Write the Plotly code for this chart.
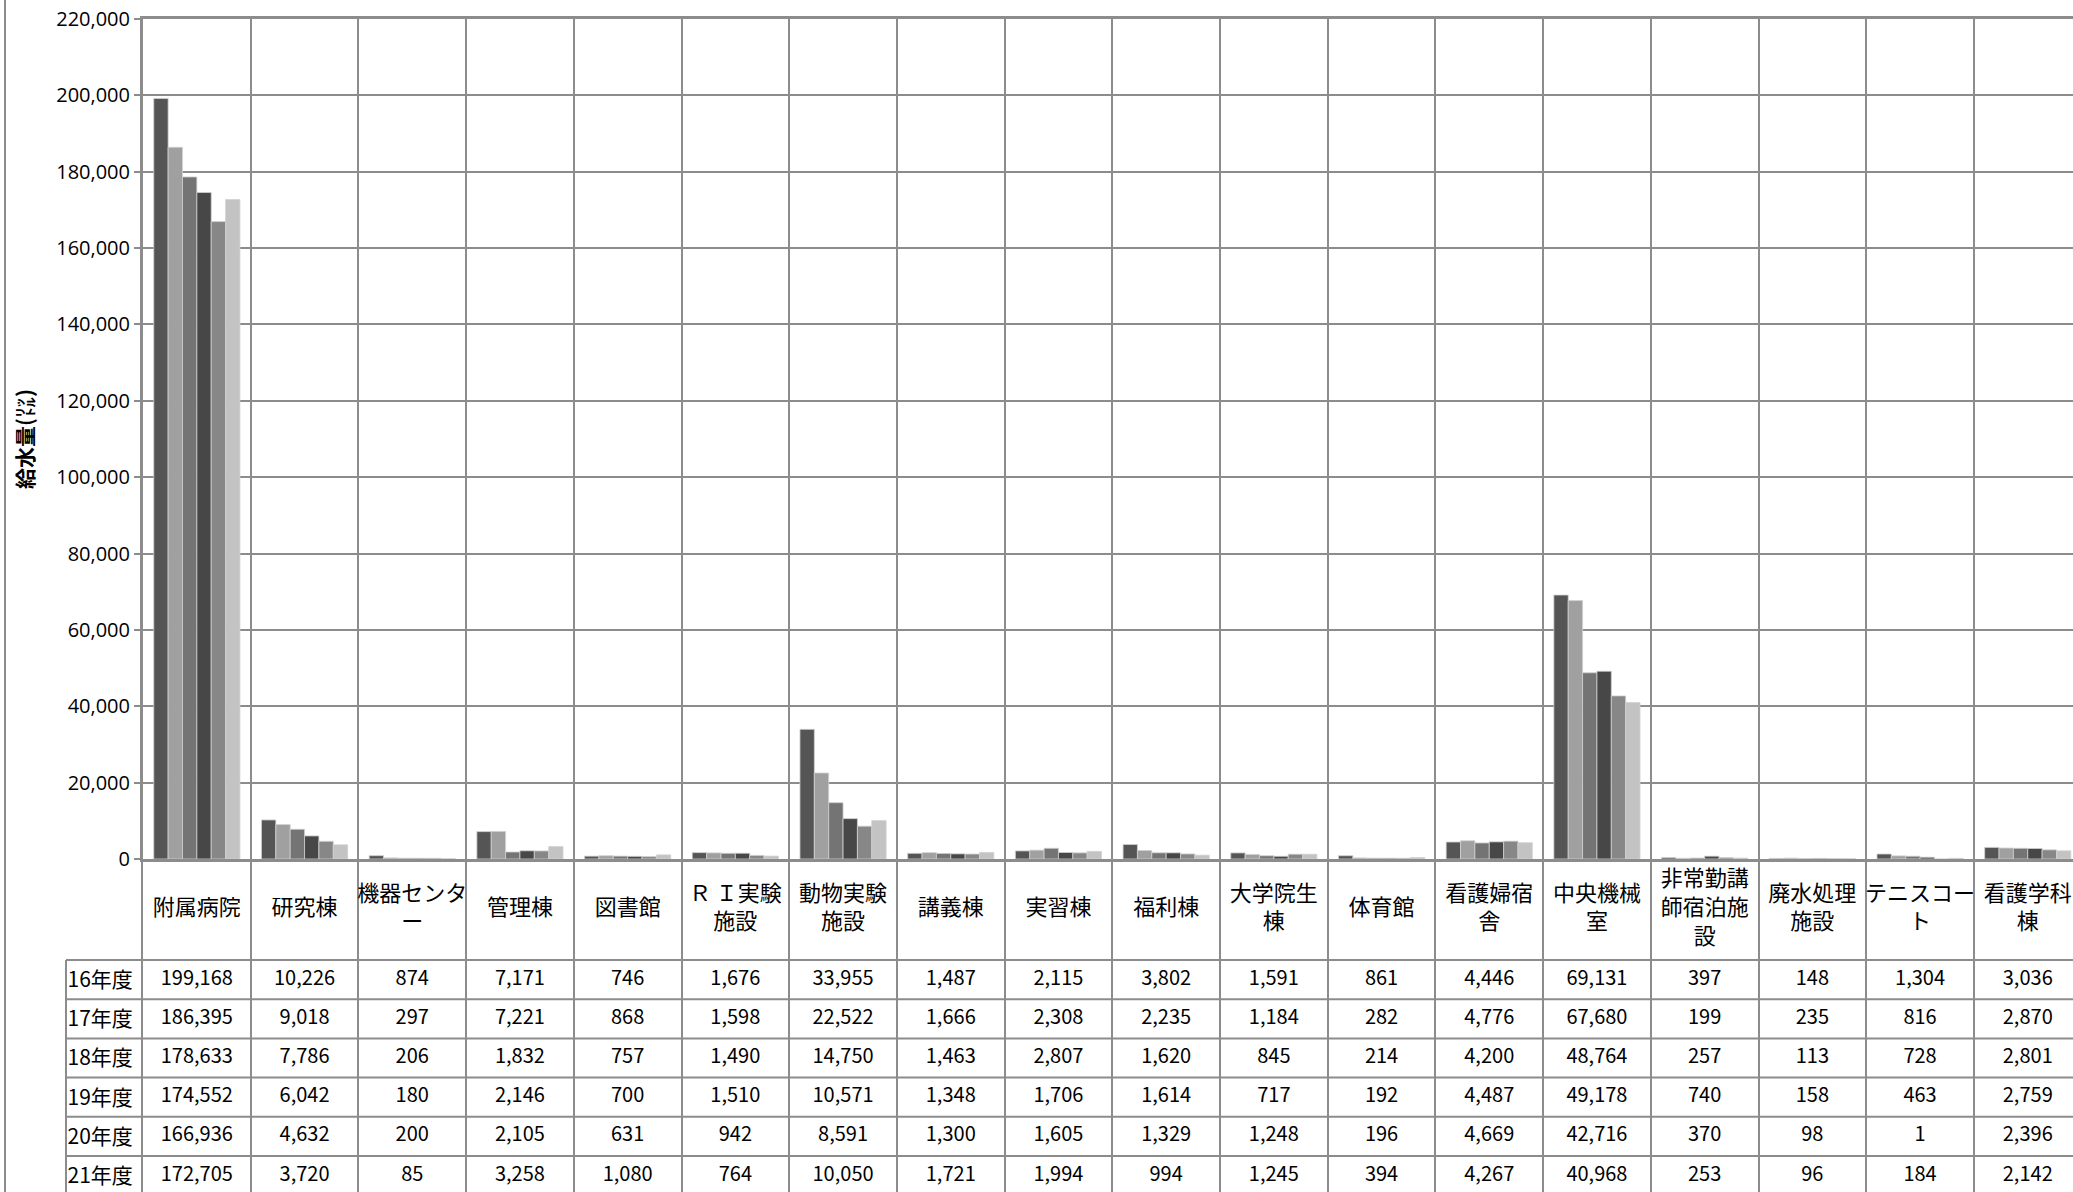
import plotly.graph_objects as go

categories = ["附属病院", "研究棟", "機器センター", "管理棟", "図書館", "ＲＩ実験施設",
              "動物実験施設", "講義棟", "実習棟", "福利棟", "大学院生棟", "体育館",
              "看護婦宿舎", "中央機械室", "非常勤講師宿泊施設", "廃水処理施設",
              "テニスコート", "看護学科棟"]
header_labels = ["附属病院", "研究棟", "機器センタ<br>ー", "管理棟", "図書館", "Ｒ Ｉ実験<br>施設",
                 "動物実験<br>施設", "講義棟", "実習棟", "福利棟", "大学院生<br>棟", "体育館",
                 "看護婦宿<br>舎", "中央機械<br>室", "非常勤講<br>師宿泊施<br>設", "廃水処理<br>施設",
                 "テニスコー<br>ト", "看護学科<br>棟"]
years = ["16年度", "17年度", "18年度", "19年度", "20年度", "21年度"]

v16 = [199168, 10226, 874, 7171, 746, 1676, 33955, 1487, 2115, 3802, 1591, 861, 4446, 69131, 397, 148, 1304, 3036]
v17 = [186395, 9018, 297, 7221, 868, 1598, 22522, 1666, 2308, 2235, 1184, 282, 4776, 67680, 199, 235, 816, 2870]
v18 = [178633, 7786, 206, 1832, 757, 1490, 14750, 1463, 2807, 1620, 845, 214, 4200, 48764, 257, 113, 728, 2801]
v19 = [174552, 6042, 180, 2146, 700, 1510, 10571, 1348, 1706, 1614, 717, 192, 4487, 49178, 740, 158, 463, 2759]
v20 = [166936, 4632, 200, 2105, 631, 942, 8591, 1300, 1605, 1329, 1248, 196, 4669, 42716, 370, 98, 1, 2396]
v21 = [172705, 3720, 85, 3258, 1080, 764, 10050, 1721, 1994, 994, 1245, 394, 4267, 40968, 253, 96, 184, 2142]
series = [v16, v17, v18, v19, v20, v21]

y_ticks = list(range(0, 220001, 20000))

colors = ["#555555", "#a0a0a0", "#747474", "#474747", "#878787", "#c3c3c3"]
GRID = "#8c8c8c"
FONT = "Open Sans, Noto Sans CJK JP, sans-serif"
CJK = "Noto Sans CJK JP, sans-serif"

W, H = 2073, 1192
L, T = 143, 19
plot_w = W - L
plot_h = H - T
zero_px = 859
bar_bottom = (H - zero_px) / plot_h
cat_w = 107.7
x_end = -0.5 + plot_w / cat_w

row_h = 39.2
header_rows = (960 - zero_px) / row_h
table_bottom = -header_rows + (H - zero_px) / row_h

fig = go.Figure()

for name, vals, c in zip(years, series, colors):
    fig.add_trace(go.Bar(x=categories, y=vals, name=name, marker_color=c,
                         marker_line=dict(color="#d0d0d0", width=0.8),
                         xaxis="x", yaxis="y", showlegend=False,
                         hoverinfo="x+y+name"))

fig.add_trace(go.Scatter(x=categories, y=[-header_rows / 2] * len(categories),
                         text=header_labels, mode="text", textposition="middle center",
                         textfont=dict(size=22, color="black", family=CJK),
                         xaxis="x2", yaxis="y2", showlegend=False, hoverinfo="skip"))
for i, vals in enumerate(series):
    fig.add_trace(go.Scatter(x=categories, y=[i + 0.5] * len(categories),
                             text=[f"{v:,}" for v in vals], mode="text",
                             textposition="middle center",
                             textfont=dict(size=20, color="black", family=CJK),
                             xaxis="x2", yaxis="y2", showlegend=False, hoverinfo="skip"))

shapes = []
lx = (66 - L) / plot_w
for k in range(0, 7):
    shapes.append(dict(type="line", xref="paper", yref="y2", x0=lx, x1=1, y0=k, y1=k,
                       line=dict(color=GRID, width=2)))
shapes.append(dict(type="line", xref="paper", yref="y2", x0=lx, x1=lx, y0=0, y1=table_bottom,
                   line=dict(color=GRID, width=2)))
bx = (5 - L) / plot_w
shapes.append(dict(type="line", xref="paper", yref="paper", x0=bx, x1=bx, y0=-0.01, y1=1 + T / plot_h + 0.01,
                   line=dict(color=GRID, width=2)))

annotations = [dict(text="<b>給水量(㍑)</b>", xref="paper", yref="paper",
                    x=(24 - L) / plot_w, y=(bar_bottom + 1) / 2, textangle=-90,
                    xanchor="center", yanchor="middle",
                    showarrow=False, font=dict(size=21, color="black", family=CJK))]

fig.update_layout(
    width=W, height=H,
    margin=dict(l=L, r=0, t=T, b=0, autoexpand=False),
    paper_bgcolor="white", plot_bgcolor="white",
    barmode="group", bargap=0.2, bargroupgap=0,
    font=dict(family=FONT, color="black"),
    xaxis=dict(domain=[0, 1], range=[-0.5, x_end], type="category", automargin=False,
               tickson="boundaries", showgrid=True, gridcolor=GRID, gridwidth=2,
               showticklabels=False, ticks="", showline=True, mirror=True,
               linecolor=GRID, linewidth=3, anchor="y", fixedrange=True),
    yaxis=dict(domain=[bar_bottom, 1], range=[0, 220000], tickvals=y_ticks, automargin=False,
               tickformat=",d", showgrid=True, gridcolor=GRID, gridwidth=2,
               ticks="outside", ticklen=6, tickwidth=2, tickcolor=GRID,
               showline=True, linecolor=GRID, linewidth=3, zeroline=False,
               tickfont=dict(size=20, color="black", family=FONT), anchor="x"),
    xaxis2=dict(domain=[0, 1], matches="x", type="category", tickson="boundaries",
                automargin=False,
                showgrid=True, gridcolor=GRID, gridwidth=2, showticklabels=False,
                ticks="", showline=False, anchor="y2"),
    yaxis2=dict(domain=[0, bar_bottom], range=[table_bottom, -header_rows], automargin=False,
                tickvals=[i + 0.5 for i in range(len(years))], ticktext=years,
                showgrid=False, zeroline=False, ticks="", showline=True,
                linecolor=GRID, linewidth=2, ticklabelstandoff=4,
                tickfont=dict(size=21, color="black", family=CJK), anchor="x2"),
    shapes=shapes,
    annotations=annotations,
)

fig.write_html("out.html", config={"displayModeBar": False},
               post_script="document.body.style.margin='0';document.body.style.overflow='hidden';")
